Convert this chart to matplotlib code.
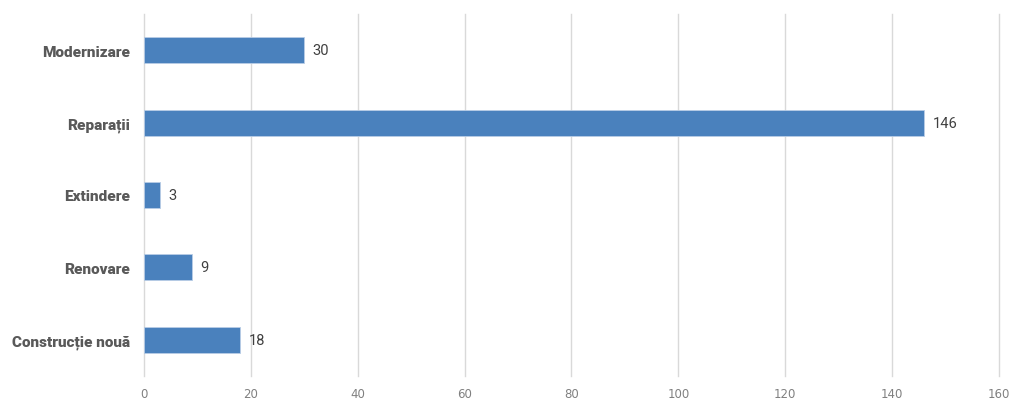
import matplotlib
matplotlib.use("Agg")
import matplotlib.pyplot as plt

categories = ["Construcție nouă", "Renovare", "Extindere", "Reparații", "Modernizare"]
values = [18, 9, 3, 146, 30]
xticks = [0, 20, 40, 60, 80, 100, 120, 140, 160]

fig = plt.figure(figsize=(10.24, 4.10), dpi=100)
ax = fig.add_axes([0.1406, 0.0805, 0.8350, 0.8830])

y = range(len(categories))
ax.barh(y, values, height=0.36, color="#4a81bd", edgecolor="#b9cde6", linewidth=0.6, zorder=3)

for i, v in enumerate(values):
    ax.text(v + 1.6, i, str(v), va="center", ha="left", fontsize=10.5,
            family="Roboto", color="#404040")

ax.set_xlim(0, 160)
ax.set_ylim(-0.5, len(categories) - 0.5)
ax.set_xticks(xticks)
ax.set_xticklabels([str(t) for t in xticks], fontsize=8.5, color="#808080", family="DejaVu Sans")
ax.set_yticks(list(y))
ax.set_yticklabels(categories, fontsize=11, fontweight=900, family="Roboto", color="#595959")
ax.tick_params(axis="both", length=0)
ax.tick_params(axis="y", pad=10)
ax.tick_params(axis="x", pad=8)
ax.grid(axis="x", color="#d9d9d9", linewidth=1, zorder=0)
for gl in ax.get_xgridlines():
    gl.set_clip_on(False)
for s in ax.spines.values():
    s.set_visible(False)

fig.savefig("out.png", dpi=100)
